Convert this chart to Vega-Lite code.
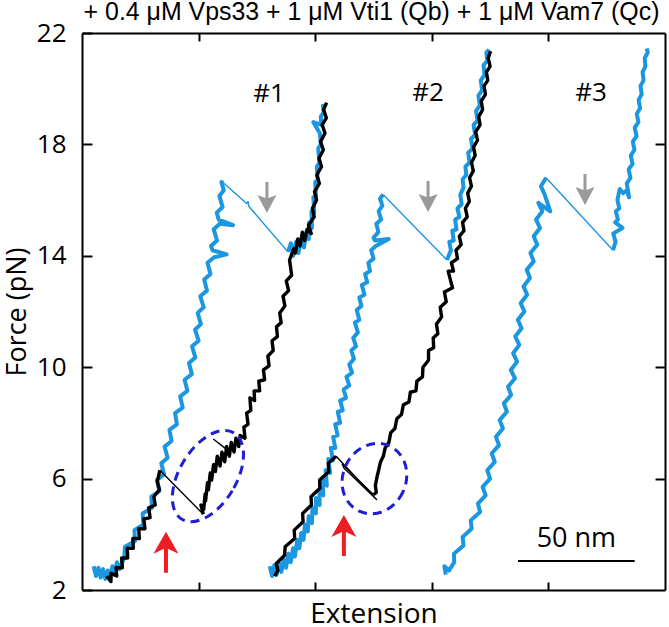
{
  "$schema": "https://vega.github.io/schema/vega-lite/v6.json",
  "width": 583,
  "height": 557,
  "autosize": "none",
  "padding": {"left": 82, "top": 33, "right": 4, "bottom": 37},
  "background": "white",
  "title": {"text": "+ 0.4 μM Vps33 + 1 μM Vti1 (Qb) + 1 μM Vam7 (Qc)", "font": "Liberation Sans", "fontSize": 24.9, "fontWeight": "normal", "color": "#000", "anchor": "middle", "frame": "group", "offset": -5, "dx": -2},
  "config": {
    "view": {"stroke": null},
    "axis": {"domainColor": "#000", "domainWidth": 2, "tickColor": "#000", "tickWidth": 2, "grid": false, "labelFont": "Open Sans", "labelFontSize": 26, "labelColor": "#000", "titleFont": "Open Sans", "titleFontSize": 28, "titleFontWeight": "normal", "titleColor": "#000"}
  },
  "datasets": {
    "p1f": [
      {"ext":5.0,"force":2.85},{"ext":6.0,"force":2.5},{"ext":7.0,"force":2.8},{"ext":8.0,"force":2.45},{"ext":9.0,"force":2.75},{"ext":10.0,"force":2.4},{"ext":11.0,"force":2.7},{"ext":12.0,"force":2.45},{"ext":13.0,"force":2.85},{"ext":14.0,"force":2.55},{"ext":15.0,"force":3.0},{"ext":16.0,"force":2.75},
      {"ext":18.1,"force":3.15},{"ext":18.4,"force":3.55},{"ext":22.7,"force":3.75},{"ext":22.5,"force":4.15},{"ext":26.3,"force":4.35},{"ext":26.0,"force":4.75},{"ext":30.0,"force":4.95},{"ext":29.7,"force":5.35},{"ext":33.2,"force":5.55},{"ext":32.1,"force":5.95},{"ext":35.2,"force":6.15},{"ext":34.0,"force":6.55},{"ext":36.7,"force":6.75},{"ext":35.4,"force":7.15},{"ext":38.4,"force":7.35},{"ext":37.5,"force":7.75},{"ext":40.7,"force":7.95},{"ext":39.9,"force":8.35},{"ext":43.2,"force":8.55},{"ext":42.1,"force":8.95},{"ext":45.2,"force":9.15},{"ext":44.0,"force":9.55},{"ext":47.1,"force":9.75},{"ext":45.9,"force":10.15},{"ext":48.6,"force":10.35},{"ext":47.2,"force":10.75},{"ext":50.0,"force":10.95},{"ext":48.5,"force":11.35},{"ext":51.0,"force":11.55},{"ext":49.6,"force":11.95},{"ext":52.2,"force":12.15},{"ext":50.7,"force":12.55},{"ext":53.6,"force":12.75},{"ext":52.4,"force":13.15},{"ext":55.1,"force":13.35},{"ext":53.8,"force":13.75},{"ext":56.7,"force":13.95},{"ext":62.0,"force":14.05},{"ext":56.0,"force":14.2},{"ext":55.3,"force":14.35},{"ext":57.9,"force":14.55},{"ext":56.5,"force":14.95},{"ext":59.1,"force":15.15},{"ext":64.8,"force":15.1},{"ext":58.6,"force":15.3},{"ext":57.8,"force":15.55},{"ext":60.3,"force":15.75},{"ext":58.9,"force":16.15},{"ext":60.8,"force":16.35},{"ext":59.8,"force":16.65},{"ext":60.6,"force":16.62}
    ],
    "p1u": [
      {"ext":88.3,"force":14.14},{"ext":89.6,"force":14.45},{"ext":90.6,"force":14.0},{"ext":91.8,"force":14.5},{"ext":92.8,"force":14.1},{"ext":94.0,"force":14.6},{"ext":95.2,"force":14.3},{"ext":96.2,"force":14.85},{"ext":97.2,"force":14.6},{"ext":97.4,"force":15.2},{"ext":98.6,"force":15.0},{"ext":98.4,"force":15.6},{"ext":99.6,"force":15.55},{"ext":99.2,"force":16.1},{"ext":100.4,"force":16.1},{"ext":100.0,"force":16.65},{"ext":101.1,"force":16.7},{"ext":100.7,"force":17.2},{"ext":101.8,"force":17.35},{"ext":101.3,"force":17.85},{"ext":102.4,"force":18.0},{"ext":102.0,"force":18.4},{"ext":99.2,"force":18.8},{"ext":102.6,"force":18.7},{"ext":102.4,"force":19.0},{"ext":103.6,"force":19.15},{"ext":103.3,"force":19.45}
    ],
    "r1u": [
      {"ext":104.9,"force":19.5},{"ext":103.6,"force":19.25},{"ext":104.8,"force":18.95},{"ext":103.0,"force":18.7},{"ext":104.2,"force":18.4},{"ext":102.3,"force":18.1},{"ext":103.5,"force":17.8},{"ext":101.6,"force":17.5},{"ext":102.7,"force":17.2},{"ext":100.7,"force":16.9},{"ext":101.8,"force":16.6},{"ext":99.7,"force":16.3},{"ext":100.6,"force":16.0},{"ext":98.8,"force":15.7},{"ext":99.6,"force":15.4},{"ext":97.1,"force":15.1},{"ext":98.3,"force":14.8},{"ext":96.5,"force":14.95},{"ext":95.5,"force":14.55},{"ext":94.5,"force":14.85},{"ext":93.5,"force":14.35},{"ext":92.5,"force":14.6},{"ext":91.5,"force":14.1},{"ext":90.8,"force":14.25},{"ext":89.0,"force":13.85},{"ext":89.9,"force":13.3},{"ext":87.6,"force":13.1},{"ext":88.6,"force":12.75},{"ext":86.2,"force":12.55},{"ext":87.0,"force":12.2},{"ext":84.8,"force":11.95},{"ext":85.4,"force":11.6},{"ext":83.4,"force":11.45},{"ext":83.8,"force":11.1},{"ext":81.5,"force":10.95},{"ext":82.0,"force":10.6},{"ext":79.7,"force":10.4},{"ext":80.2,"force":10.05},{"ext":77.8,"force":9.9},{"ext":78.3,"force":9.55},{"ext":75.8,"force":9.5},{"ext":76.2,"force":9.15},{"ext":73.8,"force":9.15},{"ext":74.0,"force":8.8},{"ext":72.0,"force":8.9},{"ext":72.4,"force":8.45},{"ext":70.6,"force":8.35},{"ext":71.2,"force":7.95},{"ext":69.4,"force":7.85},{"ext":69.9,"force":7.45},{"ext":67.8,"force":7.55},{"ext":67.2,"force":7.15},{"ext":66.0,"force":7.45},{"ext":65.2,"force":6.95},{"ext":64.0,"force":7.3},{"ext":63.2,"force":6.8},{"ext":62.0,"force":7.15},{"ext":61.2,"force":6.6},{"ext":60.0,"force":6.95},{"ext":59.2,"force":6.45},{"ext":58.0,"force":6.8},{"ext":57.2,"force":6.25},{"ext":56.4,"force":6.5},{"ext":55.6,"force":5.95},{"ext":55.0,"force":6.2},{"ext":54.2,"force":5.6},{"ext":53.8,"force":5.85},{"ext":53.0,"force":5.2},{"ext":52.8,"force":5.45},{"ext":52.2,"force":4.9},{"ext":51.0,"force":5.05},{"ext":52.0,"force":4.72}
    ],
    "r1f": [
      {"ext":33.4,"force":6.3},{"ext":32.3,"force":5.9},{"ext":33.2,"force":5.6},{"ext":30.8,"force":5.35},{"ext":31.4,"force":5.05},{"ext":28.6,"force":4.95},{"ext":29.2,"force":4.6},{"ext":26.5,"force":4.55},{"ext":27.0,"force":4.2},{"ext":24.3,"force":4.2},{"ext":24.6,"force":3.85},{"ext":21.8,"force":3.85},{"ext":22.0,"force":3.5},{"ext":19.4,"force":3.5},{"ext":19.6,"force":3.15},{"ext":17.0,"force":3.15},{"ext":17.3,"force":2.8},{"ext":14.6,"force":2.8},{"ext":14.9,"force":2.5},{"ext":12.5,"force":2.6},{"ext":12.4,"force":2.3},{"ext":10.6,"force":2.5}
    ],
    "p2f": [
      {"ext":80.5,"force":2.85},{"ext":81.5,"force":2.5},{"ext":82.5,"force":2.9},{"ext":83.5,"force":2.55},{"ext":84.5,"force":2.95},{"ext":85.5,"force":2.65},{"ext":86.5,"force":3.1},{"ext":87.5,"force":2.8},{"ext":88.5,"force":3.3},{"ext":89.5,"force":3.0},{"ext":90.5,"force":3.5},{"ext":91.3,"force":3.2},{"ext":92.3,"force":3.8},{"ext":93.2,"force":3.5},{"ext":94.0,"force":4.05},{"ext":95.0,"force":3.8},{"ext":95.6,"force":4.35},{"ext":96.8,"force":4.1},{"ext":97.2,"force":4.65},{"ext":98.6,"force":4.4},{"ext":98.8,"force":4.95},{"ext":100.3,"force":4.75},{"ext":100.3,"force":5.3},{"ext":101.9,"force":5.05},{"ext":101.8,"force":5.6},{"ext":103.5,"force":5.4},{"ext":103.2,"force":5.95},{"ext":105.0,"force":5.75},{"ext":104.5,"force":6.3},{"ext":106.4,"force":6.2},{"ext":105.6,"force":6.7},{"ext":107.6,"force":6.65},{"ext":106.7,"force":7.1},{"ext":108.6,"force":7.1},{"ext":107.7,"force":7.5},{"ext":109.6,"force":7.55},{"ext":108.6,"force":7.95},{"ext":110.7,"force":8.0},{"ext":109.7,"force":8.4},{"ext":111.8,"force":8.45},{"ext":110.7,"force":8.8},{"ext":113.2,"force":8.9},{"ext":112.2,"force":9.2},{"ext":114.6,"force":9.35},{"ext":113.4,"force":9.65},{"ext":115.8,"force":9.8},{"ext":114.6,"force":10.1},{"ext":116.6,"force":10.3},{"ext":115.5,"force":10.6},{"ext":117.5,"force":10.75},{"ext":116.3,"force":11.05},{"ext":118.3,"force":11.25},{"ext":117.0,"force":11.6},{"ext":118.9,"force":11.7},{"ext":117.8,"force":12.05},{"ext":119.8,"force":12.2},{"ext":118.9,"force":12.5},{"ext":121.1,"force":12.6},{"ext":120.0,"force":12.95},{"ext":122.3,"force":13.05},{"ext":121.4,"force":13.35},{"ext":123.5,"force":13.45},{"ext":122.8,"force":13.75},{"ext":125.0,"force":13.9},{"ext":124.0,"force":14.2},{"ext":126.0,"force":14.35},{"ext":131.5,"force":14.6},{"ext":125.6,"force":14.55},{"ext":125.0,"force":14.65},{"ext":127.1,"force":14.85},{"ext":126.2,"force":15.15},{"ext":128.3,"force":15.3},{"ext":127.2,"force":15.6},{"ext":128.8,"force":15.8},{"ext":127.8,"force":16.05},{"ext":129.1,"force":16.2}
    ],
    "p2u": [
      {"ext":156.5,"force":13.85},{"ext":158.2,"force":14.2},{"ext":157.5,"force":14.5},{"ext":159.4,"force":14.55},{"ext":158.8,"force":14.9},{"ext":160.6,"force":14.95},{"ext":160.0,"force":15.3},{"ext":161.8,"force":15.4},{"ext":161.0,"force":15.7},{"ext":162.8,"force":15.85},{"ext":162.2,"force":16.2},{"ext":163.6,"force":16.45},{"ext":163.2,"force":16.75},{"ext":164.8,"force":16.9},{"ext":164.4,"force":17.2},{"ext":166.2,"force":17.35},{"ext":165.6,"force":17.7},{"ext":167.5,"force":17.85},{"ext":166.8,"force":18.2},{"ext":168.6,"force":18.35},{"ext":167.9,"force":18.7},{"ext":169.6,"force":18.85},{"ext":169.0,"force":19.2},{"ext":170.6,"force":19.4},{"ext":170.0,"force":19.75},{"ext":171.6,"force":19.95},{"ext":171.0,"force":20.3},{"ext":172.6,"force":20.5},{"ext":172.2,"force":20.85},{"ext":173.8,"force":21.0},{"ext":173.4,"force":21.3},{"ext":174.6,"force":21.4}
    ],
    "r2u": [
      {"ext":175.2,"force":21.35},{"ext":174.2,"force":21.1},{"ext":175.0,"force":20.8},{"ext":173.4,"force":20.6},{"ext":174.0,"force":20.3},{"ext":172.4,"force":20.1},{"ext":173.0,"force":19.8},{"ext":171.2,"force":19.55},{"ext":171.8,"force":19.25},{"ext":170.1,"force":19.0},{"ext":170.7,"force":18.7},{"ext":168.8,"force":18.45},{"ext":169.6,"force":18.15},{"ext":167.9,"force":17.9},{"ext":168.6,"force":17.6},{"ext":167.0,"force":17.35},{"ext":167.8,"force":17.05},{"ext":166.2,"force":16.8},{"ext":167.0,"force":16.5},{"ext":165.4,"force":16.25},{"ext":166.1,"force":15.95},{"ext":164.4,"force":15.7},{"ext":165.2,"force":15.4},{"ext":163.2,"force":15.2},{"ext":163.8,"force":14.9},{"ext":161.8,"force":14.7},{"ext":162.6,"force":14.4},{"ext":160.4,"force":14.2},{"ext":161.0,"force":13.9},{"ext":158.4,"force":13.75},{"ext":159.3,"force":13.45},{"ext":157.0,"force":13.45},{"ext":158.9,"force":12.85},{"ext":155.4,"force":12.7},{"ext":156.2,"force":12.35},{"ext":153.6,"force":12.15},{"ext":154.2,"force":11.8},{"ext":152.0,"force":11.55},{"ext":152.6,"force":11.2},{"ext":150.6,"force":11.05},{"ext":150.8,"force":10.7},{"ext":148.6,"force":10.6},{"ext":148.6,"force":10.25},{"ext":146.2,"force":10.0},{"ext":146.0,"force":9.65},{"ext":143.6,"force":9.5},{"ext":143.2,"force":9.15},{"ext":140.8,"force":9.1},{"ext":140.2,"force":8.75},{"ext":137.8,"force":8.65},{"ext":137.0,"force":8.3},{"ext":135.0,"force":8.15},{"ext":134.2,"force":7.8},{"ext":132.4,"force":7.65},{"ext":131.6,"force":7.3},{"ext":130.0,"force":7.1},{"ext":129.2,"force":6.8},{"ext":128.0,"force":6.6},{"ext":127.2,"force":6.3},{"ext":126.6,"force":6.1},{"ext":125.8,"force":5.75},{"ext":126.2,"force":5.5},{"ext":125.0,"force":5.42}
    ],
    "r2f": [
      {"ext":109.0,"force":6.8},{"ext":105.6,"force":6.55},{"ext":105.8,"force":6.25},{"ext":101.9,"force":5.95},{"ext":102.0,"force":5.65},{"ext":98.2,"force":5.35},{"ext":98.4,"force":5.05},{"ext":94.6,"force":4.75},{"ext":94.8,"force":4.45},{"ext":91.0,"force":4.15},{"ext":91.2,"force":3.85},{"ext":87.1,"force":3.55},{"ext":86.9,"force":3.25},{"ext":83.3,"force":2.95},{"ext":84.0,"force":2.7},{"ext":82.6,"force":2.5}
    ],
    "p3f": [
      {"ext":156.0,"force":2.55},{"ext":155.4,"force":2.85},{"ext":157.4,"force":2.7},{"ext":159.6,"force":3.0},{"ext":159.5,"force":3.3},{"ext":163.6,"force":3.6},{"ext":163.2,"force":3.9},{"ext":167.1,"force":4.2},{"ext":166.7,"force":4.5},{"ext":170.7,"force":4.8},{"ext":169.8,"force":5.1},{"ext":173.1,"force":5.4},{"ext":171.8,"force":5.7},{"ext":175.0,"force":6.0},{"ext":173.8,"force":6.3},{"ext":177.0,"force":6.6},{"ext":175.7,"force":6.9},{"ext":178.8,"force":7.2},{"ext":177.5,"force":7.5},{"ext":180.5,"force":7.8},{"ext":179.1,"force":8.1},{"ext":182.2,"force":8.4},{"ext":180.9,"force":8.7},{"ext":184.0,"force":9.0},{"ext":182.7,"force":9.3},{"ext":185.7,"force":9.6},{"ext":183.9,"force":9.9},{"ext":186.6,"force":10.2},{"ext":184.9,"force":10.5},{"ext":187.5,"force":10.8},{"ext":185.8,"force":11.1},{"ext":188.5,"force":11.4},{"ext":186.9,"force":11.7},{"ext":189.7,"force":12.0},{"ext":188.1,"force":12.3},{"ext":190.9,"force":12.6},{"ext":189.3,"force":12.9},{"ext":192.1,"force":13.2},{"ext":190.7,"force":13.5},{"ext":193.7,"force":13.8},{"ext":192.3,"force":14.1},{"ext":195.2,"force":14.4},{"ext":193.7,"force":14.7},{"ext":196.4,"force":15.0},{"ext":194.7,"force":15.3},{"ext":197.4,"force":15.6},{"ext":195.7,"force":15.9},{"ext":200.8,"force":15.6},{"ext":198.4,"force":16.2},{"ext":196.8,"force":16.5},{"ext":199.0,"force":16.8}
    ],
    "p3u": [
      {"ext":227.7,"force":14.2},{"ext":228.8,"force":14.5},{"ext":227.8,"force":14.8},{"ext":231.8,"force":15.0},{"ext":228.6,"force":15.2},{"ext":229.8,"force":15.3},{"ext":228.9,"force":15.6},{"ext":230.4,"force":15.7},{"ext":229.6,"force":16.0},{"ext":230.6,"force":16.4},{"ext":232.0,"force":16.25},{"ext":233.6,"force":16.35},{"ext":234.6,"force":16.1},{"ext":233.6,"force":16.6},{"ext":235.2,"force":16.8},{"ext":234.4,"force":17.1},{"ext":236.1,"force":17.3},{"ext":235.3,"force":17.6},{"ext":236.9,"force":17.8},{"ext":236.2,"force":18.1},{"ext":237.8,"force":18.3},{"ext":237.0,"force":18.6},{"ext":238.6,"force":18.8},{"ext":237.9,"force":19.1},{"ext":239.3,"force":19.3},{"ext":238.7,"force":19.6},{"ext":240.0,"force":19.8},{"ext":239.5,"force":20.1},{"ext":240.8,"force":20.3},{"ext":240.4,"force":20.6},{"ext":241.6,"force":20.8},{"ext":241.3,"force":21.1},{"ext":242.6,"force":21.3},{"ext":242.2,"force":21.45}
    ],
    "jumpsPull": [
      {"jump":"1","ext":60.6,"force":16.62},{"jump":"1","ext":70.6,"force":15.88},{"jump":"1","ext":71.2,"force":15.95},{"jump":"1","ext":71.5,"force":15.78},{"jump":"1","ext":88.3,"force":14.14},
      {"jump":"2","ext":129.1,"force":16.2},{"jump":"2","ext":156.5,"force":13.85},
      {"jump":"3","ext":199.0,"force":16.8},{"jump":"3","ext":227.7,"force":14.2}
    ],
    "jumpsRelax": [
      {"jump":"1","ext":52.0,"force":4.72},{"jump":"1","ext":33.4,"force":6.3},
      {"jump":"1s","ext":62.0,"force":7.05},{"jump":"1s","ext":56.3,"force":7.42},
      {"jump":"2","ext":125.0,"force":5.42},{"jump":"2","ext":111.6,"force":6.52},{"jump":"2","ext":112.3,"force":6.38},{"jump":"2","ext":126.3,"force":5.25},{"jump":"2","ext":109.0,"force":6.8}
    ],
    "marks": [
      {"kind":"ellipse1","ext":54.0,"force":6.09},
      {"kind":"ellipse2","ext":125.4,"force":6.0},
      {"kind":"unfold","ext":79.3,"force":15.54},
      {"kind":"unfold","ext":148.4,"force":15.57},
      {"kind":"unfold","ext":215.7,"force":15.82},
      {"kind":"refold","ext":36.0,"force":4.09},
      {"kind":"refold","ext":112.3,"force":4.69}
    ],
    "labels": [
      {"text":"#1","ext":80.2,"force":19.82},
      {"text":"#2","ext":148.4,"force":19.85},
      {"text":"#3","ext":218.3,"force":19.85}
    ],
    "scalebar": [
      {"text":"50 nm","ext":187.0,"ext2":237.0,"force":3.04,"labelforce":3.83,"mid":212.0}
    ]
  },
  "resolve": {"axis": {"x": "independent", "y": "independent"}},
  "encoding": {
    "x": {"field": "ext", "type": "quantitative", "scale": {"domain": [0, 250], "nice": false, "zero": false}, "axis": null},
    "y": {"field": "force", "type": "quantitative", "scale": {"domain": [2, 22], "nice": false, "zero": false}, "axis": null}
  },
  "layer": [
    {
      "data": {"name": "p1f"},
      "mark": {"type": "line", "color": "#1b96e0", "strokeWidth": 4, "strokeJoin": "round"},
      "encoding": {
        "x": {"field": "ext", "type": "quantitative", "scale": {"domain": [0, 250], "nice": false, "zero": false}, "axis": {"orient": "bottom", "values": [50, 100, 150, 200], "tickSize": -8, "labels": false, "title": "Extension", "titlePadding": 9}},
        "y": {"field": "force", "type": "quantitative", "scale": {"domain": [2, 22], "nice": false, "zero": false}, "axis": {"orient": "left", "values": [2, 6, 10, 14, 18, 22], "tickSize": -10, "labelPadding": 26, "title": "Force (pN)", "titleFontSize": 27, "titlePadding": 5}},
        "order": {"value": null}
      }
    },
    {
      "data": {"name": "p2f"},
      "mark": {"type": "line", "color": "#1b96e0", "strokeWidth": 4, "strokeJoin": "round"},
      "encoding": {
        "x": {"field": "ext", "type": "quantitative", "scale": {"domain": [0, 250], "nice": false, "zero": false}, "axis": {"orient": "top", "values": [50, 100, 150, 200], "tickSize": -8, "labels": false, "title": null}},
        "y": {"field": "force", "type": "quantitative", "scale": {"domain": [2, 22], "nice": false, "zero": false}, "axis": {"orient": "right", "values": [6, 10, 14, 18], "tickSize": -10, "labels": false, "title": null}},
        "order": {"value": null}
      }
    },
    {"data": {"name": "p3f"}, "mark": {"type": "line", "color": "#1b96e0", "strokeWidth": 4, "strokeJoin": "round"}, "encoding": {"order": {"value": null}}},
    {"data": {"name": "p1u"}, "mark": {"type": "line", "color": "#1b96e0", "strokeWidth": 4, "strokeJoin": "round"}, "encoding": {"order": {"value": null}}},
    {"data": {"name": "p2u"}, "mark": {"type": "line", "color": "#1b96e0", "strokeWidth": 4, "strokeJoin": "round"}, "encoding": {"order": {"value": null}}},
    {"data": {"name": "p3u"}, "mark": {"type": "line", "color": "#1b96e0", "strokeWidth": 4, "strokeJoin": "round"}, "encoding": {"order": {"value": null}}},
    {"data": {"name": "jumpsPull"}, "mark": {"type": "line", "color": "#1b96e0", "strokeWidth": 1.4, "strokeJoin": "round"}, "encoding": {"detail": {"field": "jump"}, "order": {"value": null}}},
    {"data": {"name": "r1u"}, "mark": {"type": "line", "color": "#000000", "strokeWidth": 3.4, "strokeJoin": "round"}, "encoding": {"order": {"value": null}}},
    {"data": {"name": "r1f"}, "mark": {"type": "line", "color": "#000000", "strokeWidth": 3.4, "strokeJoin": "round"}, "encoding": {"order": {"value": null}}},
    {"data": {"name": "r2u"}, "mark": {"type": "line", "color": "#000000", "strokeWidth": 3.4, "strokeJoin": "round"}, "encoding": {"order": {"value": null}}},
    {"data": {"name": "r2f"}, "mark": {"type": "line", "color": "#000000", "strokeWidth": 3.4, "strokeJoin": "round"}, "encoding": {"order": {"value": null}}},
    {"data": {"name": "jumpsRelax"}, "mark": {"type": "line", "color": "#000000", "strokeWidth": 1.4, "strokeJoin": "round"}, "encoding": {"detail": {"field": "jump"}, "order": {"value": null}}},
    {
      "data": {"name": "marks"},
      "transform": [{"filter": "datum.kind === 'ellipse1'"}],
      "mark": {"type": "point", "shape": "M 28.4 0 C 28.4 27.8 15.7 50.4 0 50.4 C -15.7 50.4 -28.4 27.8 -28.4 0 C -28.4 -27.8 -15.7 -50.4 0 -50.4 C 15.7 -50.4 28.4 -27.8 28.4 0 Z", "size": 4, "angle": 31, "filled": false, "stroke": "#1e1ed2", "strokeWidth": 3, "strokeDash": [9, 6], "opacity": 1}
    },
    {
      "data": {"name": "marks"},
      "transform": [{"filter": "datum.kind === 'ellipse2'"}],
      "mark": {"type": "point", "shape": "M 31.5 0 C 31.5 19.9 17.4 36 0 36 C -17.4 36 -31.5 19.9 -31.5 0 C -31.5 -19.9 -17.4 -36 0 -36 C 17.4 -36 31.5 -19.9 31.5 0 Z", "size": 4, "angle": 25, "filled": false, "stroke": "#1e1ed2", "strokeWidth": 3, "strokeDash": [9, 6], "opacity": 1}
    },
    {
      "data": {"name": "marks"},
      "transform": [{"filter": "datum.kind === 'unfold'"}],
      "mark": {"type": "point", "shape": "M -1.5 -31 L 1.5 -31 L 1.5 -15 L 9.5 -18 L 0 0 L -9.5 -18 L -1.5 -15 Z", "size": 4, "filled": true, "fill": "#9a9a9a", "strokeWidth": 0, "opacity": 1}
    },
    {
      "data": {"name": "marks"},
      "transform": [{"filter": "datum.kind === 'refold'"}],
      "mark": {"type": "point", "shape": "M 0 0 L 12.5 22 L 2 17 L 2 41 L -2 41 L -2 17 L -12.5 22 Z", "size": 4, "filled": true, "fill": "#ee1d23", "strokeWidth": 0, "opacity": 1}
    },
    {
      "data": {"name": "labels"},
      "mark": {"type": "text", "font": "Open Sans", "fontSize": 26, "color": "#000", "align": "center", "baseline": "middle"},
      "encoding": {"text": {"field": "text"}}
    },
    {
      "data": {"name": "scalebar"},
      "mark": {"type": "rule", "color": "#000", "strokeWidth": 2},
      "encoding": {"x2": {"field": "ext2"}}
    },
    {
      "data": {"name": "scalebar"},
      "mark": {"type": "text", "font": "Open Sans", "fontSize": 27, "color": "#000", "align": "center", "baseline": "middle"},
      "encoding": {
        "x": {"field": "mid", "type": "quantitative", "scale": {"domain": [0, 250], "nice": false, "zero": false}, "axis": null},
        "y": {"field": "labelforce", "type": "quantitative", "scale": {"domain": [2, 22], "nice": false, "zero": false}, "axis": null},
        "text": {"field": "text"}
      }
    }
  ]
}
